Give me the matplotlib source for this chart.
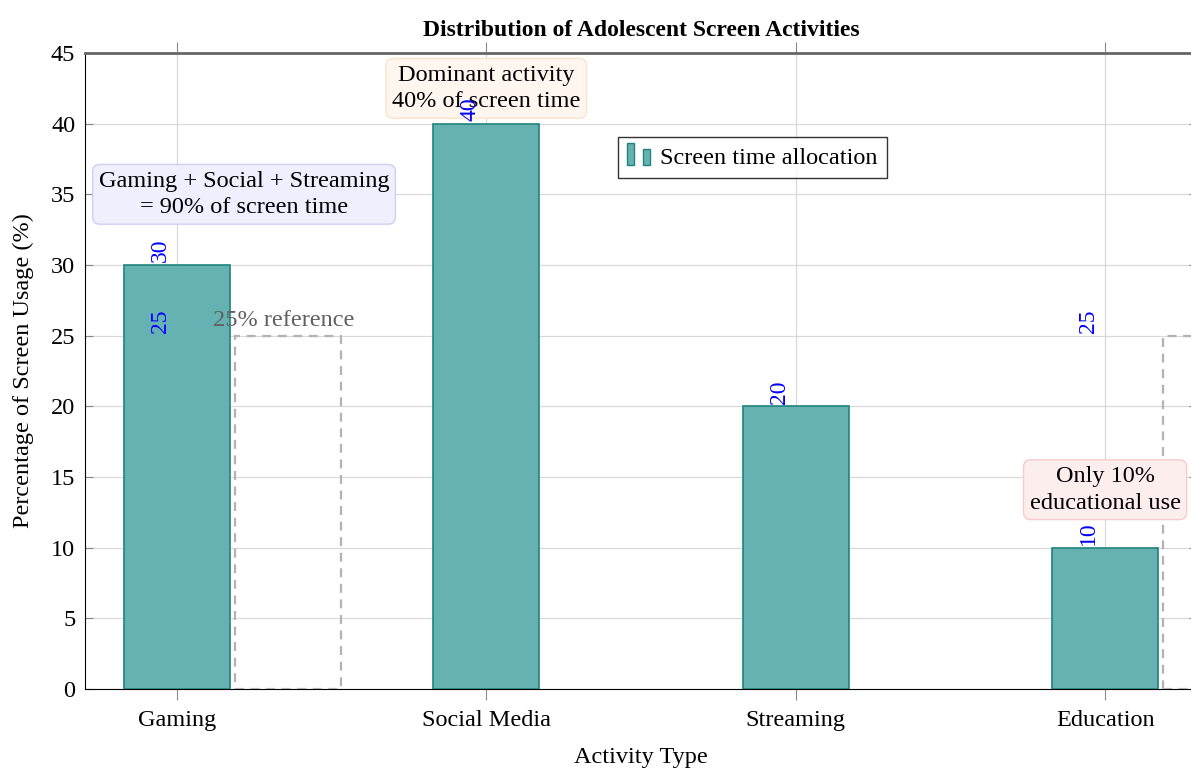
import matplotlib
matplotlib.use("Agg")
import matplotlib.pyplot as plt
from matplotlib.patches import Rectangle
from matplotlib.legend_handler import HandlerBase
import numpy as np

plt.rcParams['font.family'] = ['Liberation Serif', 'DejaVu Serif']

# Dados do gráfico
categories = ["Gaming", "Social Media", "Streaming", "Education"]
usage = [30, 40, 20, 10]
reference = [25, np.nan, np.nan, 25]   # barras de referência (25%)

bar_fill = "#66b2b2"
bar_edge = "#1f847f"
fs = 17.5


class TwoBarHandler(HandlerBase):
    # ícone da legenda com duas barrinhas, estilo pgfplots
    def create_artists(self, legend, orig_handle, xdescent, ydescent,
                       width, height, fontsize, trans):
        w = width * 0.26
        r1 = Rectangle((-xdescent, -ydescent - 0.1 * height), w, height * 1.3,
                       facecolor=bar_fill, edgecolor=bar_edge, lw=1, transform=trans)
        r2 = Rectangle((-xdescent + width * 0.6, -ydescent - 0.1 * height), w, height * 0.95,
                       facecolor=bar_fill, edgecolor=bar_edge, lw=1, transform=trans)
        return [r1, r2]


fig = plt.figure(figsize=(11.91, 7.73), dpi=100)
ax = fig.add_axes([85 / 1191, 84 / 773, 1112 / 1191, 636 / 773])

x = np.arange(len(categories))
bw = 0.343
bars = ax.bar(x, usage, width=bw, color=bar_fill, edgecolor=bar_edge,
              linewidth=1.2, zorder=3, label="Screen time allocation")
ax.bar(x + 0.36, reference, width=bw, fill=False, edgecolor="#b3b3b3",
       linestyle=(0, (4, 3)), linewidth=1.6, zorder=3)

# rótulos dos valores
for xi, v in zip(x, usage):
    ax.annotate(f"{v}", (xi, v), xytext=(-12, 2), textcoords="offset points",
                rotation=90, ha="center", va="bottom", color="blue",
                fontsize=17, zorder=5)
for xi, v in zip(x, reference):
    if not np.isnan(v):
        ax.annotate(f"{v:.0f}", (xi, v), xytext=(-12, 2), textcoords="offset points",
                    rotation=90, ha="center", va="bottom", color="blue",
                    fontsize=17, zorder=5)

ax.text(0.345, 25.3, "25% reference", ha="center", va="bottom",
        color="#606060", fontsize=fs, zorder=5)

ax.text(0.217, 35, "Gaming + Social + Streaming\n= 90% of screen time",
        ha="center", va="center", fontsize=fs, linespacing=1.35, zorder=6,
        bbox=dict(boxstyle="round,pad=0.25,rounding_size=0.3",
                  facecolor="#efeffd", edgecolor="#cfcff5", lw=1))
ax.text(1, 42.5, "Dominant activity\n40% of screen time",
        ha="center", va="center", fontsize=fs, linespacing=1.35, zorder=4,
        bbox=dict(boxstyle="round,pad=0.25,rounding_size=0.3",
                  facecolor="#fff6ef", edgecolor="#fde3cc", lw=1))
ax.text(3, 14.1, "Only 10%\neducational use",
        ha="center", va="center", fontsize=fs, linespacing=1.35, zorder=6,
        bbox=dict(boxstyle="round,pad=0.25,rounding_size=0.3",
                  facecolor="#fdeeee", edgecolor="#f8caca", lw=1))

leg = ax.legend(handles=[bars], handler_map={type(bars): TwoBarHandler()},
                loc="center", bbox_to_anchor=(1.86, 37.6),
                bbox_transform=ax.transData, fontsize=fs, frameon=True,
                fancybox=False, edgecolor="black", handlelength=1.1,
                handletextpad=0.25, borderpad=0.4, borderaxespad=0)
leg.get_frame().set_linewidth(1.0)
leg.set_zorder(7)

ax.set_xlim(-0.297, 3.297)
ax.set_ylim(0, 45)
ax.set_xticks(x)
ax.set_xticklabels(categories)
ax.set_yticks(np.arange(0, 46, 5))
ax.tick_params(axis="x", direction="out", top=True, bottom=True, length=8,
               color="#888888", labelsize=fs, pad=7)
ax.tick_params(axis="y", direction="in", left=True, right=True, length=6,
               color="#888888", labelsize=fs, pad=7)

ax.grid(True, color="#d9d9d9", linewidth=0.9, zorder=0)
ax.set_axisbelow(True)

ax.spines["top"].set_color("#666666")
ax.spines["top"].set_linewidth(2)
ax.spines["left"].set_color("black")
ax.spines["bottom"].set_color("black")
ax.spines["right"].set_color("#666666")

ax.set_xlabel("Activity Type", fontsize=fs, labelpad=12)
ax.set_ylabel("Percentage of Screen Usage (%)", fontsize=fs, labelpad=12)
ax.set_title("Distribution of Adolescent Screen Activities",
             fontsize=17, fontweight="bold", pad=12)

fig.savefig("out.png", dpi=100)
